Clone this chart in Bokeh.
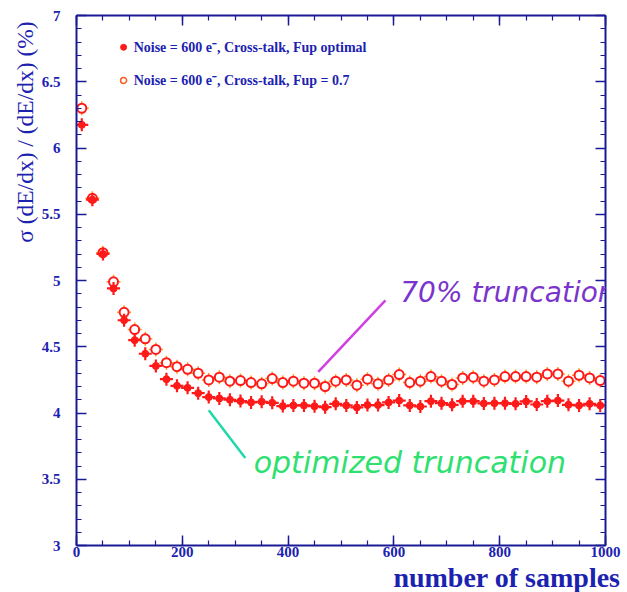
from bokeh.plotting import figure
from bokeh.models import Range1d, LinearAxis, Label, SingleIntervalTicker, CustomJSTickFormatter, ColumnDataSource, Title
from bokeh.embed import file_html
from bokeh.resources import INLINE

# ---------------- data ----------------
n_samples = [10, 30, 50, 70, 90, 110, 130, 150, 170, 190,
             210, 230, 250, 270, 290, 310, 330, 350, 370, 390,
             410, 430, 450, 470, 490, 510, 530, 550, 570, 590,
             610, 630, 650, 670, 690, 710, 730, 750, 770, 790,
             810, 830, 850, 870, 890, 910, 930, 950, 970, 990]

sigma_fup_optimal = [6.175, 5.61, 5.20, 4.94, 4.70, 4.55, 4.447, 4.355, 4.255, 4.205,
                     4.19, 4.15, 4.12, 4.11, 4.10, 4.09, 4.08, 4.085, 4.077, 4.052,
                     4.057, 4.057, 4.051, 4.044, 4.069, 4.057, 4.042, 4.06, 4.06, 4.08,
                     4.094, 4.057, 4.049, 4.089, 4.074, 4.062, 4.089, 4.089, 4.072, 4.074,
                     4.074, 4.069, 4.087, 4.064, 4.089, 4.094, 4.062, 4.057, 4.069, 4.057]

sigma_fup_07 = [6.30, 5.62, 5.21, 4.99, 4.76, 4.63, 4.56, 4.48, 4.38, 4.35,
                4.33, 4.30, 4.25, 4.27, 4.24, 4.245, 4.23, 4.22, 4.26, 4.23,
                4.24, 4.225, 4.225, 4.20, 4.24, 4.25, 4.21, 4.255, 4.22, 4.25,
                4.29, 4.23, 4.24, 4.275, 4.24, 4.215, 4.265, 4.27, 4.24, 4.25,
                4.275, 4.275, 4.275, 4.27, 4.295, 4.295, 4.24, 4.285, 4.265, 4.245]

x_tick_labels = [0, 200, 400, 600, 800, 1000]
y_tick_labels = [3, 3.5, 4, 4.5, 5, 5.5, 6, 6.5, 7]

legend_optimal = "Noise = 600 e\u207b, Cross-talk, Fup optimal"
legend_07 = "Noise = 600 e\u207b, Cross-talk, Fup = 0.7"
x_title = "number of samples"
y_title = "\u03c3 (dE/dx) / (dE/dx)  (%)"
note_70 = "70% truncation"
note_opt = "optimized truncation"

# ---------------- styling ----------------
BLUE = "#1c22b0"
AXIS = "#1a1a96"
RED = "#ff1a1a"
SERIF = "Liberation Serif"

p = figure(width=622, height=592,
           x_range=Range1d(0, 1000), y_range=Range1d(3, 7),
           output_backend="svg", toolbar_location=None,
           min_border_left=76, min_border_right=17,
           min_border_top=15, min_border_bottom=47,
           background_fill_color="white", border_fill_color="white")
p.grid.visible = False
p.outline_line_color = None

def style_axis(ax, show_labels):
    ax.axis_line_color = AXIS
    ax.axis_line_width = 2
    ax.major_tick_line_color = AXIS
    ax.minor_tick_line_color = AXIS
    ax.major_tick_line_width = 1.5
    ax.minor_tick_line_width = 1.2
    ax.major_tick_in = 10
    ax.major_tick_out = 0
    ax.minor_tick_in = 5
    ax.minor_tick_out = 0
    if show_labels:
        ax.major_label_text_font = SERIF
        ax.major_label_text_font_style = "bold"
        ax.major_label_text_font_size = "15px"
        ax.major_label_text_color = BLUE
    else:
        ax.formatter = CustomJSTickFormatter(code="return ''")
        ax.major_label_standoff = 0

p.xaxis.ticker = SingleIntervalTicker(interval=200, num_minor_ticks=4)
p.yaxis.ticker = SingleIntervalTicker(interval=0.5, num_minor_ticks=5)
style_axis(p.xaxis[0], True)
style_axis(p.yaxis[0], True)
p.xaxis.major_label_standoff = 1
p.yaxis.major_label_standoff = 16
p.yaxis.major_label_overrides = {t: f"{t:g}" for t in y_tick_labels}
p.xaxis.major_label_overrides = {t: f"{t:g}" for t in x_tick_labels}

top = LinearAxis(ticker=SingleIntervalTicker(interval=200, num_minor_ticks=4))
right = LinearAxis(ticker=SingleIntervalTicker(interval=0.5, num_minor_ticks=5))
style_axis(top, False)
style_axis(right, False)
p.add_layout(top, "above")
p.add_layout(right, "right")

# ---------------- axis titles ----------------
p.add_layout(Title(text=x_title, align="right", offset=-15, standoff=0,
                   text_font=SERIF, text_font_style="bold", text_font_size="28px",
                   text_color=BLUE), "below")
p.add_layout(Title(text=y_title, align="right", offset=0, standoff=2,
                   text_font=SERIF, text_font_style="normal", text_font_size="23.5px",
                   text_color=BLUE), "left")

# ---------------- data markers ----------------
src = ColumnDataSource(dict(x=n_samples, opt=sigma_fup_optimal, f07=sigma_fup_07))

# Fup = 0.7 : open circles with short error ticks
p.scatter("x", "f07", source=src, marker="cross", size=14, line_color="#ff9a20", line_width=1.5)
p.scatter("x", "f07", source=src, marker="circle", size=9, line_color=RED, line_width=2,
          fill_color="white")

# Fup optimal : filled star-like points
p.scatter("x", "opt", source=src, marker="cross", size=13, line_color=RED, line_width=2.2)
p.scatter("x", "opt", source=src, marker="circle", size=7, line_color=RED, fill_color=RED)

# ---------------- legend ----------------
p.scatter([89], [6.76], marker="circle", size=6, fill_color=RED, line_color=RED)
p.scatter([89], [6.51], marker="circle", size=6, fill_color="white", line_color="#ff5a20", line_width=1.5)
for yy, txt in ((6.76, legend_optimal), (6.51, legend_07)):
    p.add_layout(Label(x=108, y=yy, text=txt, text_font=SERIF, text_font_style="bold",
                       text_font_size="14px", text_color=BLUE, text_baseline="middle",
                       text_align="left"))

# ---------------- hand-written annotations ----------------
p.segment(x0=[457], y0=[4.31], x1=[584], y1=[4.85], line_color="#d040e0", line_width=2.5)
p.segment(x0=[250], y0=[4.02], x1=[319], y1=[3.66], line_color="#20d8a8", line_width=2.5)
p.add_layout(Label(x=612, y=4.91, text=note_70, text_font="DejaVu Sans",
                   text_font_style="italic", text_font_size="28px", text_color="#7a34cc",
                   text_baseline="middle", text_align="left"))
p.add_layout(Label(x=335, y=3.63, text=note_opt, text_font="DejaVu Sans",
                   text_font_style="italic", text_font_size="30px", text_color="#2ee070",
                   text_baseline="middle", text_align="left"))

open("out.html", "w").write(file_html(p, INLINE))
